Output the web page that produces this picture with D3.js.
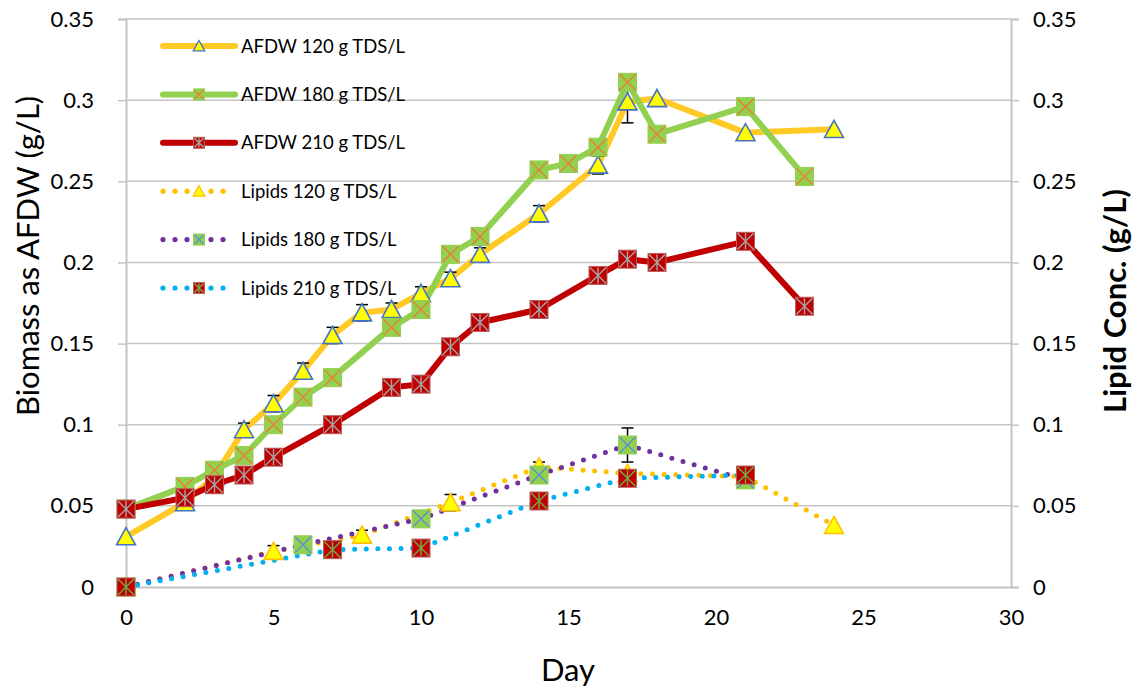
<!DOCTYPE html>
<html>
<head>
<meta charset="utf-8">
<script src="https://cdn.jsdelivr.net/npm/d3@7"></script>
<style>
  html, body { margin: 0; padding: 0; background: #fff; }
  svg { display: block; font-family: Lato, "Open Sans", sans-serif; }
</style>
</head>
<body>
<svg id="chart" width="1142" height="689"></svg>
<script>
// ---- Data ----
const days120  = [0, 2, 3, 4, 5, 6, 7, 8, 9, 10, 11, 12, 14, 16, 17, 18, 21, 24];
const afdw120  = [0.031, 0.052, 0.068, 0.097, 0.113, 0.133, 0.155, 0.169, 0.171, 0.181, 0.190, 0.205, 0.230, 0.260, 0.299, 0.301, 0.280, 0.282];
const afdw120Err = [0, 0, 0, 0.004, 0.005, 0.005, 0.005, 0.005, 0.004, 0.004, 0.004, 0.004, 0.005, 0.0055, 0.013, 0, 0, 0];

const days180  = [0, 2, 3, 4, 5, 6, 7, 9, 10, 11, 12, 14, 15, 16, 17, 18, 21, 23];
const afdw180  = [0.048, 0.062, 0.072, 0.081, 0.100, 0.117, 0.129, 0.160, 0.171, 0.205, 0.216, 0.257, 0.261, 0.271, 0.311, 0.279, 0.296, 0.253];

const days210  = [0, 2, 3, 4, 5, 7, 9, 10, 11, 12, 14, 16, 17, 18, 21, 23];
const afdw210  = [0.048, 0.055, 0.063, 0.069, 0.080, 0.100, 0.123, 0.125, 0.148, 0.163, 0.171, 0.192, 0.202, 0.200, 0.213, 0.173];

const lipDays120 = [0, 5, 8, 11, 14, 17, 21, 24];
const lip120     = [0, 0.022, 0.032, 0.052, 0.074, 0.070, 0.068, 0.038];
const lip120Err  = [0, 0.0035, 0.003, 0.005, 0.003, 0, 0, 0];

const lipDays180 = [0, 6, 10, 14, 17, 21];
const lip180     = [0, 0.026, 0.042, 0.069, 0.0875, 0.066];
const lip180Err  = [0, 0, 0, 0, 0.0105, 0];

const lipDays210 = [0, 7, 10, 14, 17, 21];
const lip210     = [0, 0.023, 0.024, 0.053, 0.067, 0.069];

const xTicks = [0, 5, 10, 15, 20, 25, 30];
const yTicks = [0, 0.05, 0.1, 0.15, 0.2, 0.25, 0.3, 0.35];

const legendLabels = ["AFDW 120 g TDS/L", "AFDW 180 g TDS/L", "AFDW 210 g TDS/L",
                      "Lipids 120 g TDS/L", "Lipids 180 g TDS/L", "Lipids 210 g TDS/L"];

// ---- Layout ----
const svg = d3.select("#chart");
const plot = { left: 126, right: 1011, top: 19, bottom: 587 };

const x = d3.scaleLinear().domain([0, 30]).range([plot.left, plot.right]);
const yL = d3.scaleLinear().domain([0, 0.35]).range([plot.bottom, plot.top]);
const yR = d3.scaleLinear().domain([0, 0.35]).range([plot.bottom, plot.top]);

const gridColor = "#c4c4c4";

// Gridlines
svg.append("g").selectAll("line").data(yTicks.slice(1)).join("line")
  .attr("x1", plot.left).attr("x2", plot.right)
  .attr("y1", d => yL(d)).attr("y2", d => yL(d))
  .attr("stroke", gridColor).attr("stroke-width", 1.5);

// Axes
const fmt = d => d === 0 ? "0" : String(+d.toFixed(2));
const leftAxis = svg.append("g").attr("transform", `translate(${plot.left},0)`)
  .call(d3.axisLeft(yL).tickValues(yTicks).tickFormat(fmt).tickSize(8).tickPadding(24));
const rightAxis = svg.append("g").attr("transform", `translate(${plot.right},0)`)
  .call(d3.axisRight(yR).tickValues(yTicks).tickFormat(fmt).tickSize(8).tickPadding(14));
const bottomAxis = svg.append("g").attr("transform", `translate(0,${plot.bottom})`)
  .call(d3.axisBottom(x).tickValues(xTicks).tickFormat(d3.format("d")).tickSize(0).tickPadding(22));

[leftAxis, rightAxis, bottomAxis].forEach(g => {
  g.select(".domain").attr("stroke", gridColor).attr("stroke-width", 2);
  g.selectAll(".tick line").attr("stroke", gridColor).attr("stroke-width", 1.5);
  g.selectAll(".tick text").attr("fill", "#000").style("font-size", "22px")
    .style("font-family", "Lato, sans-serif");
});

// Axis titles
svg.append("text")
  .attr("transform", "translate(39,256) rotate(-90)")
  .attr("text-anchor", "middle").attr("fill", "#000")
  .style("font-size", "31px").text("Biomass as AFDW (g/L)");
svg.append("text")
  .attr("transform", "translate(1126,301) rotate(-90)")
  .attr("text-anchor", "middle").attr("fill", "#000")
  .style("font-size", "31px").style("font-weight", "bold").text("Lipid Conc. (g/L)");
svg.append("text")
  .attr("x", 568).attr("y", 681)
  .attr("text-anchor", "middle").attr("fill", "#000")
  .style("font-size", "31px").text("Day");

// ---- Marker drawing ----
function drawMarker(g, kind, size) {
  const h = size / 2;
  if (kind === "tri" || kind === "triLip") {
    const pts = [[0, -h], [h * 1.05, h * 0.9], [-h * 1.05, h * 0.9]];
    g.append("path").attr("d", "M" + pts.join("L") + "Z")
      .attr("fill", "#ffff00")
      .attr("stroke", kind === "tri" ? "#4472c4" : "#ffc000")
      .attr("stroke-width", size > 14 ? 1.6 : 1.3);
  } else {
    const cfg = {
      sqX:      { fill: "#92d050", edge: "#92d050", cross: "#ed7d31", star: false },
      sqStar:   { fill: "#c00000", edge: "#b86060", cross: "#a5a5a5", star: true },
      sqXLip:   { fill: "#92d050", edge: "#92d050", cross: "#5b8fd5", star: false },
      sqStarLip:{ fill: "#c00000", edge: "#b86060", cross: "#70ad47", star: true }
    }[kind];
    g.append("rect").attr("x", -h).attr("y", -h).attr("width", size).attr("height", size)
      .attr("fill", cfg.fill).attr("stroke", cfg.edge).attr("stroke-width", 1);
    const c = h - 1;
    g.append("path").attr("d", `M${-c},${-c}L${c},${c}M${c},${-c}L${-c},${c}` + (cfg.star ? `M0,${-c}L0,${c}` : ""))
      .attr("stroke", cfg.cross).attr("stroke-width", 1.4).attr("fill", "none");
  }
}

// ---- Series definitions ----
const series = [
  { xs: days120, ys: afdw120, err: afdw120Err, y: yL, color: "#ffc926", width: 6, dotted: false, marker: "tri" },
  { xs: days180, ys: afdw180, err: null, y: yL, color: "#92d050", width: 6, dotted: false, marker: "sqX" },
  { xs: days210, ys: afdw210, err: null, y: yL, color: "#c00000", width: 6, dotted: false, marker: "sqStar" },
  { xs: lipDays120, ys: lip120, err: lip120Err, y: yR, color: "#ffc000", width: 5, dotted: true, marker: "triLip" },
  { xs: lipDays180, ys: lip180, err: lip180Err, y: yR, color: "#7030a0", width: 5, dotted: true, marker: "sqXLip" },
  { xs: lipDays210, ys: lip210, err: null, y: yR, color: "#00b0f0", width: 5, dotted: true, marker: "sqStarLip" }
];

const lineGen = (s) => d3.line().x(d => x(d[0])).y(d => s.y(d[1]));

// Lines
series.forEach(s => {
  const pts = s.xs.map((d, i) => [d, s.ys[i]]);
  svg.append("path").datum(pts)
    .attr("d", lineGen(s))
    .attr("fill", "none").attr("stroke", s.color)
    .attr("stroke-width", s.width)
    .attr("stroke-linejoin", "round")
    .attr("stroke-linecap", s.dotted ? "round" : "butt")
    .attr("stroke-dasharray", s.dotted ? "0 11.6" : null);
});

// Error bars and markers
series.forEach(s => {
  if (s.err) {
    const eg = svg.append("g");
    s.xs.forEach((d, i) => {
      const e = s.err[i];
      if (!e) return;
      const cx = x(d), lo = s.y(s.ys[i] - e), hi = s.y(s.ys[i] + e);
      eg.append("line").attr("x1", cx).attr("x2", cx).attr("y1", lo).attr("y2", hi)
        .attr("stroke", "#000").attr("stroke-width", 1.5);
      [lo, hi].forEach(yy => eg.append("line")
        .attr("x1", cx - 6).attr("x2", cx + 6).attr("y1", yy).attr("y2", yy)
        .attr("stroke", "#000").attr("stroke-width", 1.5));
    });
  }
  const mg = svg.append("g");
  s.xs.forEach((d, i) => {
    const g = mg.append("g").attr("transform", `translate(${x(d)},${s.y(s.ys[i])})`);
    drawMarker(g, s.marker, 18);
  });
});

// ---- Legend ----
const legend = svg.append("g");
series.forEach((s, i) => {
  const ly = 46 + i * 48.4;
  const g = legend.append("g").attr("transform", `translate(0,${ly})`);
  if (s.dotted) {
    g.selectAll("circle").data([163, 175, 187, 211, 223]).join("circle")
      .attr("cx", d => d).attr("cy", 0).attr("r", 2.6).attr("fill", s.color);
  } else {
    g.append("line").attr("x1", 163).attr("x2", 235).attr("y1", 0).attr("y2", 0)
      .attr("stroke", s.color).attr("stroke-width", s.width).attr("stroke-linecap", "round");
  }
  const mk = g.append("g").attr("transform", "translate(199,0)");
  drawMarker(mk, s.marker, 11);
  g.append("text").attr("x", 241).attr("y", 6.5).attr("fill", "#000")
    .style("font-size", "18.5px").text(legendLabels[i]);
});
</script>
</body>
</html>
